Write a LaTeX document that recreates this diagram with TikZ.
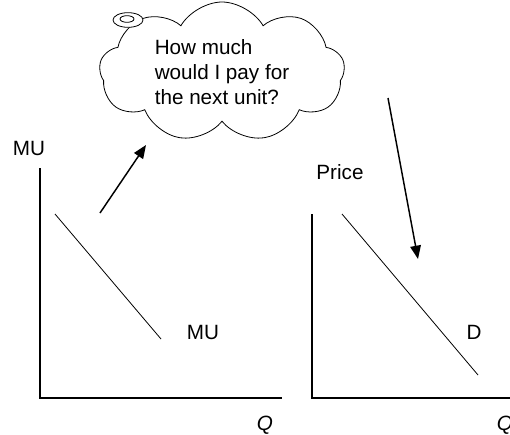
\documentclass[tikz,border=0pt]{standalone}
\usepackage{fontspec}
\setsansfont{Liberation Sans}
\usetikzlibrary{arrows.meta,positioning,shapes.symbols,shapes.geometric}

\begin{document}
\begin{tikzpicture}[
  x=0.75pt,
  y=-0.75pt,
  font=\sffamily\fontsize{15.5}{18.5}\selectfont,
  >=Latex,
  axis/.style={line width=0.8pt, draw=black},
  curve/.style={line width=0.6pt, draw=black},
  thought/.style={-{Triangle[length=10pt,width=8pt]}, line width=1.1pt, draw=black},
  bubble/.style={cloud, draw=black, line width=0.6pt, cloud puffs=9,
    cloud puff arc=120, cloud ignores aspect, minimum width=184pt,
    minimum height=105pt, align=left, inner sep=0pt},
  blob/.style={ellipse, draw=black, fill=white, line width=0.6pt, inner sep=0pt},
  tag/.style={inner sep=0pt}
]

\useasboundingbox (0,0) rectangle (510,435);

% thought cloud
\node[bubble] (think) at (222,72)
  {How much\\would I pay for\\the next unit?};
\node[blob, minimum width=22.5pt, minimum height=11pt] (blobout) at (128,20) {};
\node[blob, minimum width=10.5pt, minimum height=5pt] (blobin) at (127,19) {};

% marginal utility panel
\coordinate (muY) at (40,168);
\coordinate (muO) at (40,398);
\coordinate (muX) at (282,398);
\draw[axis] (muY) -- (muO) -- (muX);
\node[tag] (muTop) at (29,148) {MU};
\coordinate (muA) at (55,214);
\coordinate (muB) at (161,339);
\draw[curve] (muA) -- (muB);
\node[tag] (muEnd) at (203,332) {MU};
\node[tag] (qLeft) at (265,425) {\itshape Q};

% demand panel
\coordinate (dY) at (312,214);
\coordinate (dO) at (312,398);
\coordinate (dX) at (512,398);
\draw[axis] (dY) -- (dO) -- (dX);
\node[tag] (price) at (340,172) {Price};
\coordinate (dA) at (342,214);
\coordinate (dB) at (478,375);
\draw[curve] (dA) -- (dB);
\node[tag] (dEnd) at (474,332) {D};
\node[tag] (qRight) at (505,425) {\itshape Q};

% thinking arrows
\coordinate (upS) at (100,213);
\coordinate (upE) at (146,145);
\draw[thought] (upS) -- (upE);
\coordinate (downS) at (388,98);
\coordinate (downE) at (418,259);
\draw[thought] (downS) -- (downE);

\end{tikzpicture}
\end{document}
